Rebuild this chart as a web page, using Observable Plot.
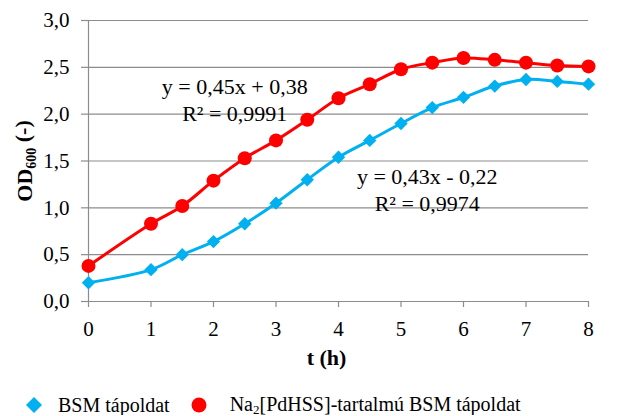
<!DOCTYPE html>
<html>
<head>
<meta charset="utf-8">
<script src="https://cdn.jsdelivr.net/npm/d3@7"></script>
<script src="https://cdn.jsdelivr.net/npm/@observablehq/plot@0.6"></script>
<style>
  body { margin: 0; background: #fff; font-family: "Liberation Serif", serif; }
  #legend { display: flex; align-items: center; height: 20px; margin-top: 10px; font-size: 20px; color: #000; white-space: nowrap; font-family: "Liberation Serif", serif; }
  .sym { display: inline-block; }
</style>
</head>
<body>
<div id="chart"></div>
<div id="legend"></div>
<script>
const times = [0, 1, 1.5, 2, 2.5, 3, 3.5, 4, 4.5, 5, 5.5, 6, 6.5, 7, 7.5, 8];
const bsm   = [0.20, 0.34, 0.50, 0.64, 0.83, 1.05, 1.30, 1.54, 1.72, 1.90, 2.07, 2.18, 2.30, 2.37, 2.35, 2.32];
const pdhss = [0.38, 0.83, 1.02, 1.29, 1.53, 1.72, 1.94, 2.17, 2.32, 2.48, 2.55, 2.60, 2.58, 2.55, 2.52, 2.51];
const yTicks = [0, 0.5, 1.0, 1.5, 2.0, 2.5, 3.0];
const xTicks = [0, 1, 2, 3, 4, 5, 6, 7, 8];
const seriesNames = ["BSM tápoldat", "Na2[PdHSS]-tartalmú BSM tápoldat"];
const colors = ["#00b0f0", "#ff0000"];
const trendLabels = ["y = 0,43x - 0,22\nR² = 0,9974", "y = 0,45x + 0,38\nR² = 0,9991"];

const bsmData = times.map((t, i) => ({t, v: bsm[i]}));
const pdData = times.map((t, i) => ({t, v: pdhss[i]}));
const fmt = d => d.toFixed(1).replace(".", ",");

const plot = Plot.plot({
  width: 629,
  height: 385,
  marginTop: 20,
  marginBottom: 84,
  marginLeft: 88,
  marginRight: 41,
  style: {fontFamily: "Liberation Serif", fontSize: "21px", color: "#000", background: "#fff"},
  x: {domain: [0, 8], ticks: xTicks, tickSize: 6, tickPadding: 14, tickFormat: d => String(d), label: "t (h)", labelAnchor: "center", labelOffset: 63},
  y: {domain: [0, 3], ticks: yTicks, tickSize: 7, tickPadding: 12, tickFormat: fmt, label: "OD600 (-)", labelAnchor: "center", labelOffset: 72},
  marks: [
    Plot.ruleY(yTicks.filter(d => d > 0), {stroke: "#8c8c8c", strokeWidth: 1.2}),
    Plot.ruleX([0], {stroke: "#8c8c8c", strokeWidth: 1.2}),
    Plot.ruleY([0], {stroke: "#8c8c8c", strokeWidth: 1.2}),
    Plot.line(bsmData, {x: "t", y: "v", stroke: colors[0], strokeWidth: 3, curve: "catmull-rom"}),
    Plot.line(pdData, {x: "t", y: "v", stroke: colors[1], strokeWidth: 3, curve: "catmull-rom"}),
    Plot.dot(bsmData, {x: "t", y: "v", symbol: "diamond2", r: 6, fill: colors[0], stroke: "none"}),
    Plot.dot(pdData, {x: "t", y: "v", symbol: "circle", r: 7, fill: colors[1], stroke: "none"}),
    Plot.text([trendLabels[1]], {x: 2.34, y: 2.16, text: d => d, fontSize: 22, lineHeight: 1.22, textAnchor: "middle", fill: "#000"}),
    Plot.text([trendLabels[0]], {x: 5.42, y: 1.20, text: d => d, fontSize: 22, lineHeight: 1.22, textAnchor: "middle", fill: "#000"})
  ]
});
document.getElementById("chart").appendChild(plot);

const svg = d3.select(plot);
svg.selectAll('g[aria-label="x-axis tick"], g[aria-label="y-axis tick"]').attr("stroke", "#8c8c8c").attr("stroke-width", 1.2);
svg.selectAll('g[aria-label="x-axis label"] text, g[aria-label="y-axis label"] text').attr("font-weight", "bold").attr("font-size", "22px");
const xl = svg.select('g[aria-label="x-axis label"] text');
if (!xl.empty()) xl.text("t (h)").attr("dx", -12);
const yl = svg.select('g[aria-label="y-axis label"] text');
if (!yl.empty()) {
  yl.text(null);
  yl.append("tspan").text("OD");
  yl.append("tspan").attr("font-size", "14px").attr("dy", "0.3em").text("600");
  yl.append("tspan").attr("dy", "-0.3em").text(" (-)");
}

const lg = document.getElementById("legend");
lg.innerHTML = `
  <svg class="sym" width="16" height="16" style="margin-left:26px"><path d="M8,0L16,8L8,16L0,8Z" fill="${colors[0]}"/></svg>
  <span style="margin-left:16px">${seriesNames[0]}</span>
  <svg class="sym" width="16" height="16" style="margin-left:21px"><circle cx="8" cy="8" r="7.5" fill="${colors[1]}"/></svg>
  <span style="margin-left:23px">Na<sub style="font-size:13px;vertical-align:-3px">2</sub>[PdHSS]-tartalmú BSM tápoldat</span>`;
</script>
</body>
</html>
